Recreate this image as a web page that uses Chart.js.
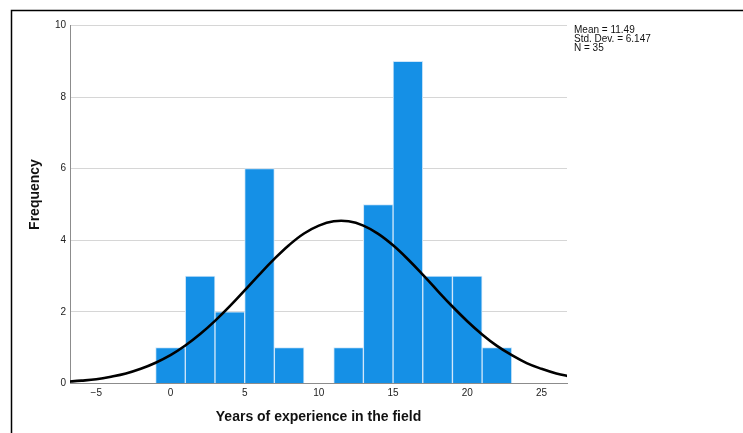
<!DOCTYPE html>
<html>
<head>
<meta charset="utf-8">
<script src="https://cdn.jsdelivr.net/npm/chart.js@4/dist/chart.umd.min.js"></script>
<style>
  html, body { margin: 0; padding: 0; background: #fff; }
  #wrap { position: relative; width: 743px; height: 433px; }
</style>
</head>
<body>
<div id="wrap"><canvas id="histo"></canvas></div>
<script>
// histogram bins (centres, width 2) and counts
const binCenters = [0, 2, 4, 6, 8, 10, 12, 14, 16, 18, 20, 22];
const frequencies = [1, 3, 2, 6, 1, 0, 1, 5, 9, 3, 3, 1];

// normal curve
const curveX = [-7, -6, -5, -4, -3, -2, -1, 0, 1, 2, 3, 4, 5, 6, 7, 8, 9, 10, 11, 12,
                13, 14, 15, 16, 17, 18, 19, 20, 21, 22, 23, 24, 25, 26, 27];
const curveY = [0.05, 0.08, 0.12, 0.19, 0.28, 0.41, 0.58, 0.79, 1.06, 1.38, 1.75, 2.16, 2.60, 3.05, 3.48, 3.87, 4.19, 4.41, 4.53, 4.53,
                4.41, 4.18, 3.86, 3.47, 3.04, 2.59, 2.15, 1.74, 1.37, 1.05, 0.79, 0.57, 0.41, 0.28, 0.19];

const xTicks = [-5, 0, 5, 10, 15, 20, 25];
const yTicks = [0, 2, 4, 6, 8, 10];
const statsLines = ["Mean = 11.49", "Std. Dev. = 6.147", "N = 35"];
const xTitle = "Years of experience in the field";
const yTitle = "Frequency";

const FONT = "'Liberation Sans', Arial, sans-serif";

// frame, y title and the stats box
const extras = {
    id: "extras",
    beforeDraw(chart) {
        const ctx = chart.ctx;
        ctx.save();
        ctx.fillStyle = "#fff";
        ctx.fillRect(0, 0, chart.width, chart.height);
        ctx.strokeStyle = "#000";
        ctx.lineWidth = 1.5;
        ctx.beginPath();
        ctx.moveTo(11.5, chart.height);
        ctx.lineTo(11.5, 10.5);
        ctx.lineTo(chart.width, 10.5);
        ctx.stroke();
        ctx.restore();
    },
    afterDraw(chart) {
        const ctx = chart.ctx;
        const area = chart.chartArea;
        ctx.save();
        ctx.fillStyle = "#111";
        ctx.font = "bold 14px " + FONT;
        ctx.textAlign = "center";
        ctx.textBaseline = "middle";
        ctx.translate(35.5, 194.5);
        ctx.rotate(-Math.PI / 2);
        ctx.fillText(yTitle, 0, 0);
        ctx.restore();

        ctx.save();
        ctx.fillStyle = "#111";
        ctx.font = "10px " + FONT;
        ctx.textAlign = "left";
        ctx.textBaseline = "middle";
        statsLines.forEach((t, i) => ctx.fillText(t, area.right + 7, 30 + i * 9));
        ctx.restore();
    }
};

const ctx = document.getElementById("histo").getContext("2d");
window.myChart = new Chart(ctx, {
    type: "bar",
    data: {
        datasets: [{
            type: "line",
            data: curveX.map((x, i) => ({ x: x, y: curveY[i] })),
            borderColor: "#000",
            borderWidth: 2.6,
            pointRadius: 0,
            tension: 0.4,
            fill: false,
            clip: 0,
            order: 0
        }, {
            type: "bar",
            data: binCenters.map((x, i) => ({ x: x, y: frequencies[i] })),
            backgroundColor: "#1590e6",
            borderColor: "#cfe6f9",
            borderWidth: 1,
            barPercentage: 1,
            categoryPercentage: 1,
            order: 1
        }]
    },
    options: {
        animation: false,
        responsive: true,
        maintainAspectRatio: false,
        layout: { padding: { top: 25.5, right: 176, bottom: 0, left: 0 } },
        plugins: { legend: { display: false }, tooltip: { enabled: false } },
        scales: {
            x: {
                type: "linear",
                offset: false,
                min: -6.77,
                max: 26.72,
                afterBuildTicks: s => { s.ticks = xTicks.map(v => ({ value: v })); },
                afterFit: s => { s.height = 49.5; },
                grid: { display: false, drawTicks: false },
                border: { display: true, color: "#8c8c8c", width: 1 },
                ticks: { color: "#222", font: { family: FONT, size: 10 }, padding: 4,
                         callback: v => (v < 0 ? "\u2212" + Math.abs(v) : v) },
                title: { display: true, text: xTitle, color: "#111",
                         font: { family: FONT, size: 14, weight: "bold" },
                         padding: { top: 0, bottom: 7 } }
            },
            y: {
                min: 0,
                max: 10,
                afterBuildTicks: s => { s.ticks = yTicks.map(v => ({ value: v })); },
                afterFit: s => { s.width = 70; },
                grid: { color: "#d6d6d6", drawTicks: false, lineWidth: 1 },
                border: { display: true, color: "#8c8c8c", width: 1 },
                ticks: { color: "#222", font: { family: FONT, size: 10 }, padding: 4 }
            }
        }
    },
    plugins: [extras]
});
</script>
</body>
</html>
